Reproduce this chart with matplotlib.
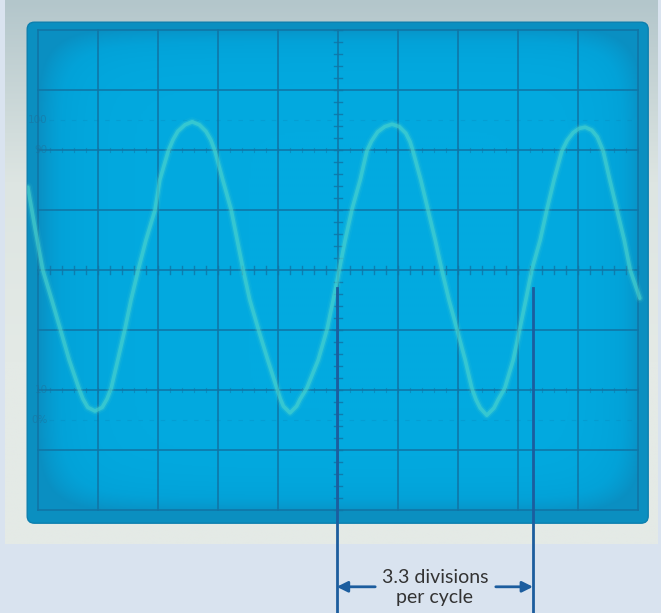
import numpy as np
import matplotlib
matplotlib.use('Agg')
import matplotlib.pyplot as plt
from matplotlib.patches import FancyBboxPatch, Rectangle
from matplotlib.colors import LinearSegmentedColormap

# trace, in graticule divisions (x: -5..5, y: -4..4)
trace_x = [-5.17, -5.05, -4.92, -4.77, -4.63, -4.48, -4.32, -4.25, -4.17, -4.05,
           -3.93, -3.85, -3.78, -3.67, -3.55, -3.45, -3.33, -3.20, -3.05, -2.97,
           -2.83, -2.75, -2.67, -2.55, -2.43, -2.31, -2.20, -2.12, -2.05, -1.92,
           -1.78, -1.68, -1.58, -1.47, -1.33, -1.17, -1.02, -0.96, -0.91, -0.80,
           -0.69, -0.63, -0.52, -0.33, -0.18, -0.08, 0.02, 0.12, 0.23, 0.37,
           0.48, 0.56, 0.66, 0.78, 0.90, 1.02, 1.13, 1.20, 1.25, 1.38,
           1.50, 1.62, 1.73, 1.85, 1.98, 2.12, 2.23, 2.30, 2.37, 2.48,
           2.60, 2.67, 2.78, 2.92, 3.03, 3.13, 3.23, 3.37, 3.48, 3.60,
           3.73, 3.82, 3.92, 4.02, 4.12, 4.23, 4.32, 4.37, 4.42, 4.53,
           4.65, 4.77, 4.87, 5.03]
trace_y = [1.38, 0.70, 0.00, -0.50, -0.98, -1.50, -1.97, -2.15, -2.29, -2.35,
           -2.29, -2.15, -1.97, -1.50, -0.98, -0.50, 0.00, 0.50, 1.00, 1.50,
           1.98, 2.17, 2.31, 2.42, 2.47, 2.42, 2.31, 2.17, 1.98, 1.50,
           1.00, 0.50, 0.00, -0.50, -0.98, -1.50, -1.97, -2.15, -2.27, -2.38,
           -2.27, -2.15, -1.97, -1.50, -0.98, -0.50, 0.00, 0.50, 1.00, 1.50,
           1.98, 2.15, 2.30, 2.39, 2.43, 2.39, 2.28, 2.14, 1.98, 1.50,
           1.00, 0.50, 0.00, -0.50, -0.98, -1.50, -1.97, -2.16, -2.30, -2.42,
           -2.30, -2.16, -1.97, -1.50, -0.98, -0.50, 0.00, 0.50, 1.00, 1.50,
           1.98, 2.16, 2.29, 2.36, 2.38, 2.33, 2.22, 2.10, 1.98, 1.50,
           1.00, 0.50, 0.00, -0.47]

cycle_start = -0.02
cycle_end = 3.25
cycle_label = '3.3 divisions\nper cycle'
level_labels = ['100', '90', '10', '0%']
level_values = [2.5, 2.0, -2.0, -2.5]

fig = plt.figure(figsize=(6.61, 6.13), dpi=100, facecolor='#d9e3ef')
ax = fig.add_axes([0, 0, 1, 1])
ax.set_xlim(-338 / 60, 323 / 60)
ax.set_ylim(-343 / 60, 270 / 60)
ax.axis('off')

# bezel
bezel = Rectangle((-5.55, -4.57), 10.87, 9.1, facecolor='#e2e8e4', edgecolor='none')
ax.add_patch(bezel)
g = np.linspace(0, 1, 200)[:, None] * np.ones((1, 10))
bezel_cmap = LinearSegmentedColormap.from_list('bz', ['#b3c6cb', '#dde5e2', '#e4eae6', '#e4eae6'])
im = ax.imshow(g, extent=(-5.55, 5.32, -4.57, 4.53), cmap=bezel_cmap, aspect='auto',
               interpolation='bilinear', zorder=1)
im.set_clip_path(bezel)

# screen
screen = FancyBboxPatch((-5.18, -4.22), 10.35, 8.35, boxstyle='round,pad=0,rounding_size=0.12',
                        facecolor='#0b8fc0', edgecolor='#0c7fae', lw=1.0, zorder=2)
ax.add_patch(screen)
yy, xx = np.mgrid[-1:1:300j, -1:1:300j]
vig = 1 - 0.45 * (np.abs(xx) ** 10 + np.abs(yy) ** 10) - 0.08 * np.clip(-xx, 0, 1) ** 3
scr_cmap = LinearSegmentedColormap.from_list('sc', ['#0a8fc2', '#03a2d8', '#02aae0'])
ax.imshow(vig, extent=(-5.0, 5.0, -4.0, 4.0), cmap=scr_cmap, vmin=0.45, vmax=1.0,
          aspect='auto', interpolation='bilinear', zorder=3)

# graticule
gc = '#1174a4'
for x in range(-5, 6):
    ax.plot([x, x], [-4, 4], color=gc, lw=1.4, alpha=0.8, zorder=4)
for y in range(-4, 5):
    ax.plot([-5, 5], [y, y], color=gc, lw=1.4, alpha=0.8, zorder=4)
ticks = np.arange(-25, 26) / 5
for t in ticks:
    ax.plot([t, t], [-0.06, 0.06], color=gc, lw=1.0, alpha=0.8, zorder=4)
for t in np.arange(-20, 21) / 5:
    ax.plot([-0.06, 0.06], [t, t], color=gc, lw=1.0, alpha=0.8, zorder=4)
for lv in [2.0, -2.0]:
    for t in ticks:
        ax.plot([t, t], [lv - 0.03, lv + 0.03], color=gc, lw=0.8, alpha=0.5, zorder=4)
for lv in [2.5, -2.5]:
    ax.plot([-5, 5], [lv, lv], color=gc, lw=0.8, alpha=0.2, ls=(0, (4, 6)), zorder=4)
for lab, lv in zip(level_labels, level_values):
    t = ax.text(-4.84, lv, lab, ha='right', va='center', fontsize=7.5,
                color='#1f6f98', alpha=0.5, zorder=4)
    t.set_clip_path(screen)

# trace
for lw, a in [(7, 0.08), (4.5, 0.22), (2.6, 0.55)]:
    ln, = ax.plot(trace_x, trace_y, color='#4fd6cc', lw=lw, alpha=a,
                  solid_capstyle='round', solid_joinstyle='round', zorder=5)
    ln.set_clip_path(screen)

# cycle annotation
lc = '#1c5d9e'
ax.plot([cycle_start, cycle_start], [-0.3, -5.75], color=lc, lw=2, zorder=6)
ax.plot([cycle_end, cycle_end], [-0.3, -5.75], color=lc, lw=2, zorder=6)
ya = -5.28
ax.annotate('', xy=(cycle_start, ya), xytext=(0.62, ya),
            arrowprops=dict(arrowstyle='-|>', color=lc, lw=2, mutation_scale=16,
                            shrinkA=0, shrinkB=0), zorder=6)
ax.annotate('', xy=(cycle_end, ya), xytext=(2.63, ya),
            arrowprops=dict(arrowstyle='-|>', color=lc, lw=2, mutation_scale=16,
                            shrinkA=0, shrinkB=0), zorder=6)
ax.text((cycle_start + cycle_end) / 2, -5.29, cycle_label, ha='center', va='center',
        fontsize=14, family='Lato', color='#333333', linespacing=1.2, zorder=6)

fig.savefig('out.png', dpi=100, facecolor=fig.get_facecolor())
